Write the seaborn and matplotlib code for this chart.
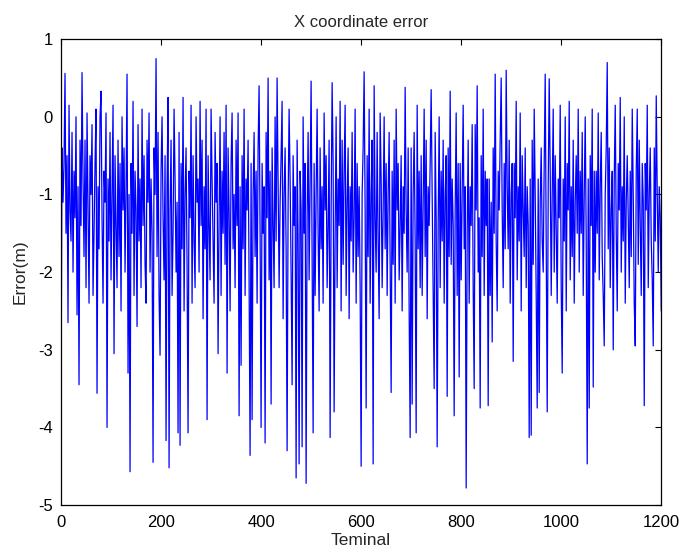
import numpy as np
import pandas as pd
import matplotlib
matplotlib.use("Agg")
import matplotlib.pyplot as plt
import seaborn as sns

# Error values, one value every 2 terminals (0..1200)
step = 2
err_values = [
    -3.70, -0.40, -1.10, -0.60, 0.56, -1.50, -0.50, -2.65, 0.15, -1.20, -1.60, -0.20, -2.00, -0.70, -1.30, 0.00, -2.55, -0.90, -3.45, -0.30,
    -1.40, 0.57, -0.80, -1.80, -0.30, -2.20, 0.05, -1.20, -2.40, -0.50, -1.00, -0.10, -2.30, -1.50, -0.60, 0.10, -3.56, -0.90, -1.70, 0.00,
    0.33, -1.30, -2.40, -0.70, -1.10, 0.05, -4.00, -0.80, -1.60, -0.20, -2.10, -1.00, 0.15, -3.05, -0.50, -1.40, -2.20, -0.30, -1.80, -0.60,
    -2.50, 0.00, -1.20, -0.40, -2.00, -0.90, 0.55, -3.30, -1.00, -4.57, -0.60, -1.50, 0.20, -2.30, -0.70, -1.20, -2.70, -0.10, -1.60, -0.80,
    -2.20, 0.10, -1.40, -0.50, -1.90, -2.40, -0.30, -1.10, 0.05, -2.00, -0.80, -1.50, -4.45, -0.40, -1.00, 0.75, -1.80, -0.20, -2.30, -3.07,
    -0.70, 0.00, -1.30, -2.10, -0.50, -4.17, -0.90, 0.25, -4.52, -1.20, -0.30, -2.30, -1.50, 0.10, -0.80, -2.00, -1.10, -4.07, -0.20, -4.23,
    -0.60, -1.70, 0.25, -2.50, -1.00, -0.40, -1.90, -4.07, -0.70, -1.30, 0.15, -2.40, -0.50, -1.60, -2.20, 0.00, -1.10, -0.80, -2.00, 0.20,
    -1.40, -0.30, -2.60, -0.90, -1.70, 0.10, -3.90, -0.50, -1.40, -2.10, 0.10, -0.80, -1.60, -2.40, -0.20, -1.10, -0.60, -3.05, -1.30, 0.00,
    -2.30, -0.70, -1.50, -0.20, -1.90, 0.15, -3.30, -0.40, -1.20, -2.50, -0.60, 0.05, -1.70, -1.00, -2.20, -0.30, -1.40, 0.05, -3.85, -0.90,
    -3.20, -0.50, -1.70, 0.10, -2.30, -0.80, -1.20, -0.30, -2.10, -4.36, -0.60, -3.90, -1.00, -0.20, -1.80, -0.70, -2.40, -0.40, 0.40, -1.50,
    -4.00, -0.60, -1.50, -0.90, -4.20, -0.20, -1.30, 0.50, -2.10, -0.70, -3.70, -0.40, -1.40, -2.20, 0.00, -1.60, 0.50, -0.90, -2.20, -1.10,
    -0.50, 0.20, -2.60, -1.00, -0.40, -1.70, -4.30, -1.10, 0.10, -0.80, -2.00, -3.45, -0.50, -1.40, -0.90, -4.65, -0.30, -1.60, -4.47, -0.70,
    -1.20, -4.25, 0.00, -1.50, -0.60, -4.72, -1.30, -0.20, -2.10, -0.80, 0.46, -1.80, -4.07, -0.60, -2.30, -1.00, 0.10, -1.50, -2.50, -0.40,
    -1.70, -0.90, -2.40, 0.05, -1.20, -0.50, -2.20, -1.40, -0.30, -4.13, -1.20, 0.44, -0.60, -3.80, -1.50, 0.00, -2.20, -0.80, -1.40, 0.20,
    -2.50, -0.30, -1.90, -0.70, 0.15, -2.30, -1.10, -0.40, -2.60, -0.90, -1.60, -0.20, -2.00, -1.30, 0.10, -2.40, -0.60, -1.80, -0.90, -2.20,
    -4.50, -1.00, -0.40, 0.58, -1.20, -3.75, -0.50, -1.80, 0.10, -2.40, -1.00, -0.30, -4.47, 0.40, -1.30, -2.00, -0.20, -1.60, -2.60, 0.05,
    -0.80, -2.20, -1.20, 0.00, -1.70, -0.60, -2.30, -1.00, -0.20, -1.90, -3.55, -0.70, -1.90, -0.30, -2.40, 0.10, -1.20, -0.60, -2.10, -1.40,
    -0.50, -2.50, -0.90, -1.50, 0.38, -1.20, -2.00, -0.40, -2.50, -4.13, -0.40, -3.70, -1.00, -0.20, -1.60, -4.07, 0.15, -1.70, -0.70, -2.20,
    -0.50, -2.30, -1.10, 0.10, -1.80, -0.30, -2.60, -0.90, -1.40, -0.60, 0.35, -1.00, -2.20, -3.50, -0.20, -1.30, -4.25, -1.40, 0.00, -2.20,
    -0.70, -1.60, -0.30, -2.40, -1.00, -0.50, -3.60, -0.40, -1.80, 0.33, -1.90, -0.80, -1.40, -3.85, -1.20, 0.05, -2.30, -0.60, -3.35, -0.60,
    -2.10, -1.00, 0.15, -1.70, -0.90, -4.78, -1.50, -0.30, -2.40, -0.90, -1.40, -0.10, -2.20, -3.50, -0.10, -1.20, 0.40, -2.00, -1.30, -3.75,
    -0.50, -1.80, 0.10, -2.30, -0.70, -1.40, -0.80, -3.72, -0.80, -2.30, -1.10, -2.90, -0.40, -1.50, 0.55, -1.60, -2.50, -0.70, -1.20, -0.30,
    0.50, -1.20, -2.20, -0.60, -1.70, 0.60, -0.90, -1.70, -0.30, -2.40, -1.00, -0.60, -3.15, -0.60, -1.30, 0.20, -2.10, -0.90, -1.60, 0.05,
    -2.50, -0.50, -1.20, -1.80, -0.40, -2.20, -0.90, -1.40, -4.13, -0.80, -4.10, -0.30, -1.90, 0.10, -1.00, -2.30, -3.75, -0.80, -3.55, -1.10,
    -0.40, -1.60, -2.00, -0.60, 0.55, -1.70, -3.80, -0.90, 0.49, -0.70, -2.30, -1.00, 0.10, -2.00, -0.50, -1.50, -2.40, -0.80, -1.30, 0.15,
    -2.20, -3.30, -0.80, -1.60, 0.00, -2.50, -0.60, -1.20, 0.20, -2.10, -0.90, -1.80, -0.30, -2.40, -1.10, -0.50, -1.50, 0.10, -2.00, -0.70,
    -1.50, -0.20, -2.30, -1.00, 0.00, -1.60, -4.47, -0.80, -3.75, -0.50, -1.40, 0.10, -3.48, -0.70, -2.00, -0.70, -1.50, 0.05, -2.10, -0.90,
    -0.20, -1.80, -2.30, -2.95, -1.00, -0.40, 0.70, -1.70, -0.40, -2.20, -1.20, -0.70, -3.00, -0.80, 0.15, -1.50, -2.50, -0.60, -1.20, 0.25,
    -2.00, -0.90, -1.60, 0.00, -2.40, -1.10, -0.50, -1.30, -2.20, -0.70, -1.80, 0.10, -1.00, -2.40, -2.95, -0.70, 0.10, -1.90, -0.30, -1.40,
    -2.30, -0.60, -1.10, -3.72, -0.60, -1.20, 0.15, -2.20, -1.00, -0.40, -1.60, -2.10, -2.95, -0.40, -1.60, 0.27, -1.00, -2.00, -0.90, -1.30,
    -2.50,
]
terminals = [i * step for i in range(len(err_values))]

x_ticks = [0, 200, 400, 600, 800, 1000, 1200]
y_ticks = [-5, -4, -3, -2, -1, 0, 1]

title = "X coordinate error"
xlabel = "Teminal"
ylabel = "Error(m)"

sns.set_style("white")
plt.rcParams["font.family"] = ["Liberation Sans", "DejaVu Sans"]
plt.rcParams["axes.unicode_minus"] = False

df = pd.DataFrame({"Terminal": terminals, "Error": err_values})

fig = plt.figure(figsize=(6.81, 5.52), dpi=100)
ax = fig.add_axes([0.0896, 0.085, 0.8814, 0.844])

sns.lineplot(data=df, x="Terminal", y="Error", color="#0000ff", linewidth=0.9, ax=ax)

ax.set_xlim(0, 1200)
ax.set_ylim(-5, 1)
ax.set_xticks(x_ticks)
ax.set_yticks(y_ticks)
ax.tick_params(direction="in", length=4, width=0.8, top=True, right=True,
               labelsize=12, colors="black")
ax.tick_params(axis="x", pad=7)
ax.tick_params(axis="y", pad=6)
for s in ax.spines.values():
    s.set_visible(True)
    s.set_color("black")
    s.set_linewidth(0.9)

ax.set_title(title, fontsize=12, pad=9)
ax.set_xlabel(xlabel, fontsize=12.5, labelpad=2)
ax.set_ylabel(ylabel, fontsize=12.5, labelpad=7)

fig.savefig("out.png", dpi=100)
